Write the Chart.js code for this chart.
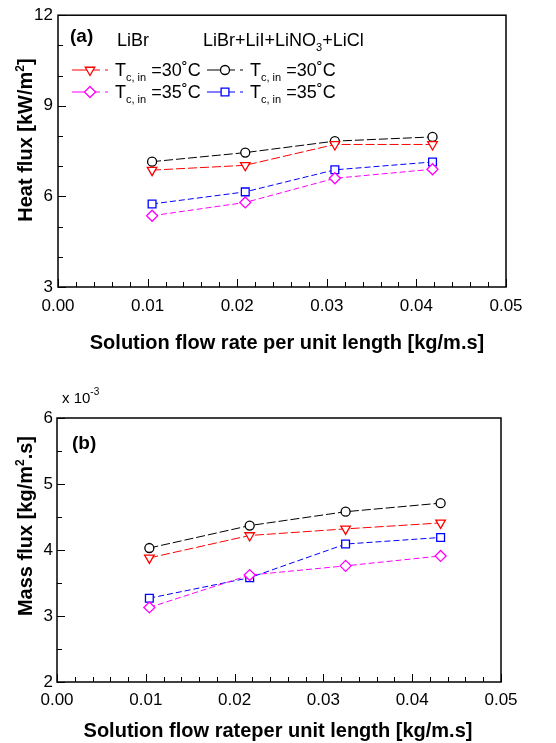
<!DOCTYPE html>
<html>
<head>
<meta charset="utf-8">
<script src="https://cdn.jsdelivr.net/npm/chart.js@4.4.0/dist/chart.umd.min.js"></script>
<style>
  body { margin: 0; background: #fff; }
  #wrap { position: relative; width: 556px; height: 743px; font-family: "Liberation Sans", Arial, sans-serif; color: #000; }
  canvas { position: absolute; left: 0; }
  #heat { top: 0; }
  #mass { top: 371px; }
  .t { position: absolute; white-space: nowrap; line-height: 1; transform: translateY(-50%); }
  .b { font-weight: bold; }
  .axis { font-weight: bold; font-size: 20px; transform: translate(-50%, -50%); }
  .yaxis { transform: translate(-50%, -50%) rotate(-90deg); }
  .key { font-size: 18px; }
  sub { font-size: 11px; line-height: 0; vertical-align: -5px; }
  sup { font-size: 12px; line-height: 0; vertical-align: 8px; }
</style>
</head>
<body>
<div id="wrap">
  <canvas id="heat" width="556" height="371"></canvas>
  <canvas id="mass" width="556" height="372"></canvas>

  <div class="t b" style="left:70px;top:35px;font-size:19px">(a)</div>
  <div class="t key" style="left:117px;top:40px">LiBr</div>
  <div class="t key" style="left:203px;top:40px">LiBr+LiI+LiNO<sub>3</sub>+LiCl</div>
  <div class="t key" style="left:115px;top:70px">T<sub>c, in</sub> =30˚C</div>
  <div class="t key" style="left:115px;top:92px">T<sub>c, in</sub> =35˚C</div>
  <div class="t key" style="left:250px;top:70px">T<sub>c, in</sub> =30˚C</div>
  <div class="t key" style="left:250px;top:92px">T<sub>c, in</sub> =35˚C</div>
  <div class="t axis yaxis" style="left:25px;top:140px">Heat flux [kW/m<sup>2</sup>]</div>
  <div class="t axis" style="left:287px;top:342px">Solution flow rate per unit length [kg/m.s]</div>

  <div class="t" style="left:62px;top:397px;font-size:15px">x 10<sup style="font-size:10px">-3</sup></div>
  <div class="t b" style="left:72px;top:442px;font-size:19px">(b)</div>
  <div class="t axis yaxis" style="left:25px;top:526px">Mass flux [kg/m<sup>2</sup>.s]</div>
  <div class="t axis" style="left:278px;top:730px">Solution flow rateper unit length [kg/m.s]</div>
</div>

<script>
// (a) heat flux, kW/m2
const flowA = [0.0105, 0.0209, 0.0309, 0.0418];
const heatLiBr30 = [6.87, 7.03, 7.72, 7.72];
const heatLiBr35 = [5.36, 5.80, 6.60, 6.90];
const heatMix30 = [7.15, 7.45, 7.83, 7.97];
const heatMix35 = [5.75, 6.15, 6.88, 7.14];

// (b) mass flux, x 10^-3 kg/m2.s
const flowB = [0.0104, 0.0217, 0.0325, 0.0432];
const massLiBr30 = [3.88, 4.22, 4.32, 4.41];
const massLiBr35 = [3.13, 3.62, 3.76, 3.91];
const massMix30 = [4.03, 4.37, 4.58, 4.71];
const massMix35 = [3.27, 3.58, 4.09, 4.19];

const seriesNames = ['LiBr, Tc,in=30°C', 'LiBr, Tc,in=35°C', 'LiBr+LiI+LiNO3+LiCl, Tc,in=30°C', 'LiBr+LiI+LiNO3+LiCl, Tc,in=35°C'];
const heatTicks = [3, 6, 9, 12];
const massTicks = [2, 3, 4, 5, 6];
const flowTicks = ['0.00', '0.01', '0.02', '0.03', '0.04', '0.05'];

const FONT = "'Liberation Sans', Arial, sans-serif";

const looks = [
  { color: '#ff0000', pointStyle: 'triangle', rotation: 180, radius: 5.5, dash: [9, 3] },
  { color: '#ff00ff', pointStyle: 'rectRot', rotation: 0, radius: 5.5, dash: [6, 3] },
  { color: '#000000', pointStyle: 'circle', rotation: 0, radius: 4.5, dash: [9, 3] },
  { color: '#0000ff', pointStyle: 'rect', rotation: 0, radius: 5.5, dash: [6, 3] }
];

// inward tick marks + box round the plot area
const frameTicks = {
  id: 'frameTicks',
  beforeDatasetsDraw(chart) {
    const { ctx, chartArea: a, scales: { x, y } } = chart;
    ctx.save();
    ctx.strokeStyle = '#000';
    ctx.lineWidth = 1;
    ctx.beginPath();
    x.ticks.forEach(t => {
      const px = Math.round(x.getPixelForValue(t.value)) + 0.5;
      const len = t.label ? 8 : 5;
      ctx.moveTo(px, a.bottom);
      ctx.lineTo(px, a.bottom - len);
    });
    y.ticks.forEach(t => {
      const py = Math.round(y.getPixelForValue(t.value)) + 0.5;
      const len = t.label ? 8 : 5;
      ctx.moveTo(a.left, py);
      ctx.lineTo(a.left + len, py);
    });
    ctx.stroke();
    ctx.lineWidth = 1.5;
    ctx.strokeRect(a.left, a.top, a.width, a.height);
    ctx.restore();
  }
};

// line + marker samples next to the key text
const keySamples = {
  id: 'keySamples',
  afterDraw(chart, args, opts) {
    if (!opts.rows) return;
    const ctx = chart.ctx;
    opts.rows.forEach(r => {
      const ds = chart.data.datasets[r.ds];
      ctx.save();
      ctx.strokeStyle = ds.borderColor;
      ctx.lineWidth = 1;
      ctx.beginPath();
      ctx.moveTo(r.x, r.y);
      ctx.lineTo(r.x + 28, r.y);
      ctx.moveTo(r.x + 33, r.y);
      ctx.lineTo(r.x + 36, r.y);
      ctx.stroke();
      ctx.fillStyle = '#fff';
      ctx.lineWidth = ds.pointBorderWidth;
      Chart.helpers.drawPoint(ctx, {
        pointStyle: ds.pointStyle, radius: ds.pointRadius,
        rotation: ds.pointRotation, borderWidth: ds.pointBorderWidth
      }, r.x + 18, r.y);
      ctx.restore();
    });
  }
};

function makeSets(xs, ys) {
  return ys.map((vals, i) => {
    const lk = looks[i];
    return {
      label: seriesNames[i],
      data: vals.map((v, j) => ({ x: xs[j], y: v })),
      showLine: true,
      borderColor: lk.color,
      borderWidth: 1,
      borderDash: lk.dash,
      pointStyle: lk.pointStyle,
      pointRotation: lk.rotation,
      pointRadius: lk.radius,
      pointBorderWidth: 1.3,
      pointBorderColor: lk.color,
      pointBackgroundColor: '#fff'
    };
  });
}

function draw(id, xs, ys, yMin, yMax, yStep, yLabels, box, xPad, yPad, keyRows) {
  const el = document.getElementById(id);
  const W = el.width, H = el.height;
  return new Chart(el, {
    type: 'scatter',
    data: { datasets: makeSets(xs, ys) },
    options: {
      responsive: false,
      animation: false,
      layout: { padding: { left: 0, top: box.top, right: W - box.right, bottom: 0 } },
      plugins: { legend: { display: false }, tooltip: { enabled: false }, keySamples: { rows: keyRows } },
      scales: {
        x: {
          type: 'linear', min: 0, max: 0.05,
          grid: { display: false, drawTicks: false },
          border: { display: false },
          ticks: {
            stepSize: 0.002, autoSkip: false, maxRotation: 0, padding: xPad,
            color: '#000', font: { family: FONT, size: 17 },
            callback: v => {
              const k = Math.round(v * 100);
              return Math.abs(v * 100 - k) < 1e-6 ? flowTicks[k] : '';
            }
          },
          afterFit: s => { s.height = H - box.bottom; }
        },
        y: {
          min: yMin, max: yMax,
          grid: { display: false, drawTicks: false },
          border: { display: false },
          ticks: {
            stepSize: yStep, padding: yPad,
            color: '#000', font: { family: FONT, size: 17 },
            callback: v => yLabels.includes(v) ? String(v) : ''
          },
          afterFit: s => { s.width = box.left; }
        }
      }
    },
    plugins: [frameTicks, keySamples]
  });
}

draw('heat', flowA, [heatLiBr30, heatLiBr35, heatMix30, heatMix35], 3, 12, 1, heatTicks,
  { left: 58, right: 506, top: 13, bottom: 287 }, 9, 5,
  [{ ds: 0, x: 72, y: 70 }, { ds: 1, x: 72, y: 92 }, { ds: 2, x: 207, y: 70 }, { ds: 3, x: 207, y: 92 }]);

draw('mass', flowB, [massLiBr30, massLiBr35, massMix30, massMix35], 2, 6, 0.5, massTicks,
  { left: 57, right: 501, top: 47, bottom: 311 }, 8, 4, null);
</script>
</body>
</html>
